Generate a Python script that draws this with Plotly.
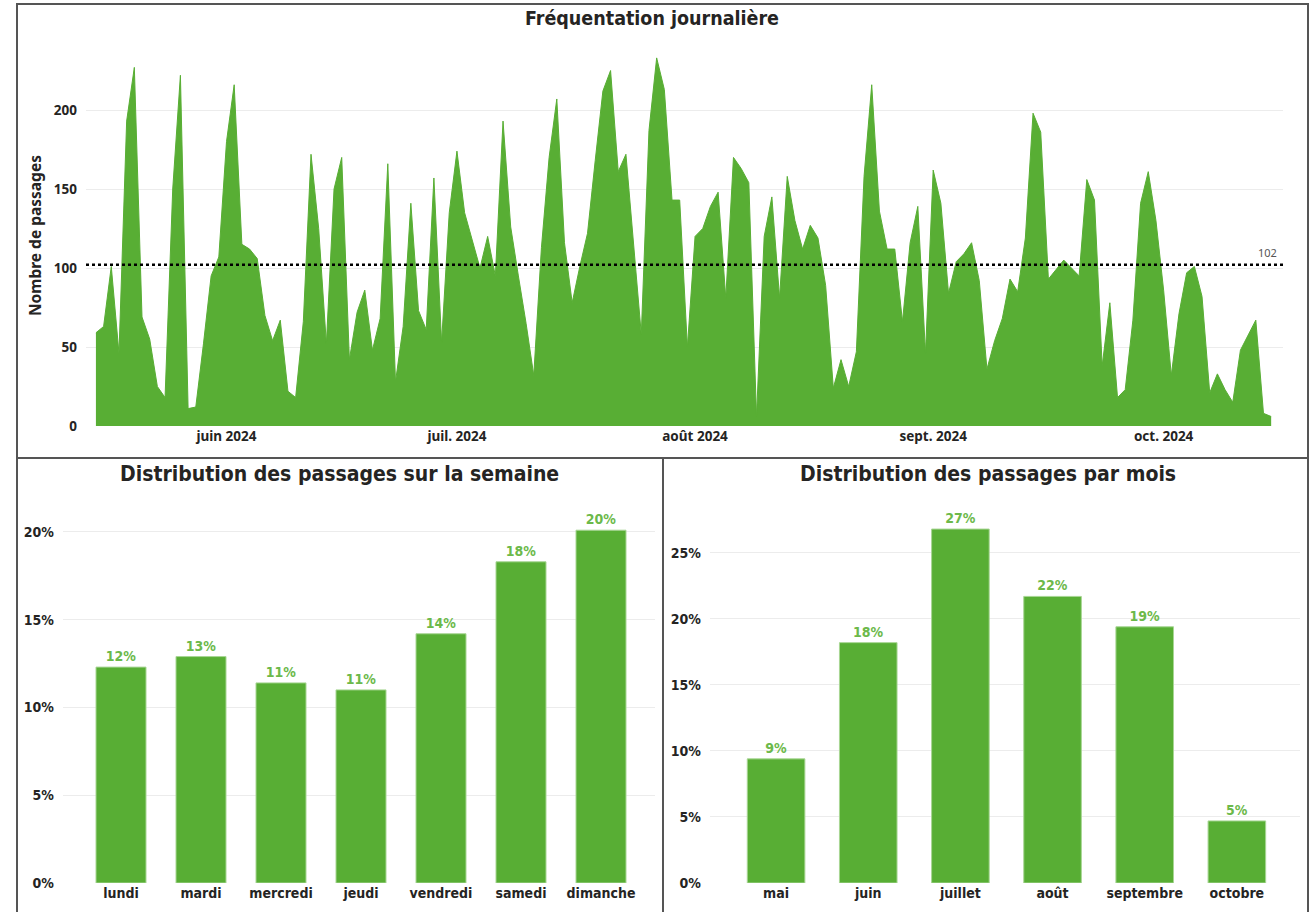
import pandas as pd
import plotly.graph_objects as go

# ---------------- data ----------------
start_date = "2024-05-15"
daily_passages = [
    59, 63, 101, 46, 193, 227, 69, 55, 25, 18,
    150, 222, 11, 12, 52, 95, 107, 180, 216, 115,
    112, 106, 70, 54, 67, 22, 18, 66, 172, 125,
    52, 150, 170, 42, 72, 86, 48, 68, 166, 28,
    63, 141, 73, 61, 157, 53, 135, 174, 135, 117,
    100, 120, 95, 193, 126, 95, 65, 32, 113, 170,
    207, 116, 78, 101, 122, 168, 212, 225, 161, 172,
    115, 58, 187, 233, 213, 143, 143, 50, 120, 125,
    139, 148, 81, 170, 163, 154, 6, 120, 145, 81,
    158, 130, 112, 127, 119, 89, 24, 42, 25, 47,
    158, 216, 136, 112, 112, 66, 116, 139, 46, 162,
    141, 84, 104, 109, 116, 92, 36, 54, 68, 93,
    85, 119, 198, 186, 93, 99, 105, 100, 95, 156,
    143, 38, 78, 18, 23, 67, 141, 161, 130, 86,
    32, 71, 97, 101, 82, 21, 33, 23, 15, 48,
    57, 67, 8, 6,
]
mean_passages = 102

month_ticks = ["2024-06-01", "2024-07-01", "2024-08-01", "2024-09-01", "2024-10-01"]
month_tick_labels = ["juin 2024", "juil. 2024", "août 2024", "sept. 2024", "oct. 2024"]
y_ticks_top = [0, 50, 100, 150, 200]

weekdays = ["lundi", "mardi", "mercredi", "jeudi", "vendredi", "samedi", "dimanche"]
weekday_pct = [12.3, 12.9, 11.4, 11.0, 14.2, 18.3, 20.1]
weekday_ticks = [0, 5, 10, 15, 20]

months = ["mai", "juin", "juillet", "août", "septembre", "octobre"]
month_pct = [9.4, 18.2, 26.8, 21.7, 19.4, 4.7]
month_ticks_pct = [0, 5, 10, 15, 20, 25]

# ---------------- layout helpers ----------------
# positions below are given in the 1309x912 frame of the target picture
REF_W, REF_H = 1309, 912
FIG_W, FIG_H = 1309, 921   # the photographed area is slightly taller than the window
def px(x):
    return x / REF_W
def py(y):
    return 1 - y / REF_H

GREEN = "#58ae34"
LABEL_GREEN = "#6cb94a"
DARK = "#252423"
GRID = "#ececec"
NARROW = "Liberation Sans Narrow, DejaVu Sans Condensed, Roboto Condensed, Roboto, sans-serif"
SANS = "Noto Sans, Open Sans, sans-serif"

dates = pd.date_range(start_date, periods=len(daily_passages), freq="D")

fig = go.Figure()

fig.add_trace(go.Scatter(
    x=dates, y=daily_passages, mode="lines", fill="tozeroy",
    line=dict(color=GREEN, width=1), fillcolor=GREEN,
    xaxis="x", yaxis="y", hoverinfo="x+y", showlegend=False,
))

fig.add_trace(go.Bar(
    x=weekdays, y=weekday_pct, marker=dict(color=GREEN, line=dict(color="#a8d694", width=1)),
    text=weekday_pct, texttemplate="%{y:.0f}%", textposition="outside",
    textfont=dict(family=NARROW, size=14, color=LABEL_GREEN, weight="bold"),
    cliponaxis=False, xaxis="x2", yaxis="y2", showlegend=False,
))

fig.add_trace(go.Bar(
    x=months, y=month_pct, marker=dict(color=GREEN, line=dict(color="#a8d694", width=1)),
    text=month_pct, texttemplate="%{y:.0f}%", textposition="outside",
    textfont=dict(family=NARROW, size=14, color=LABEL_GREEN, weight="bold"),
    cliponaxis=False, xaxis="x3", yaxis="y3", showlegend=False,
))

x_lo = dates[0] - pd.Timedelta(hours=31)
x_hi = dates[-1] + pd.Timedelta(hours=37)

tick_font_top = dict(family=SANS, size=13.5, color=DARK, weight="bold")
tick_font_bot = dict(family=NARROW, size=14, color=DARK, weight="bold")

fig.update_layout(
    width=FIG_W, height=FIG_H, autosize=False,
    margin=dict(l=0, r=0, t=0, b=0, pad=0),
    paper_bgcolor="white", plot_bgcolor="white",
    bargap=0.375,
    xaxis=dict(
        domain=[px(86), px(1283)], range=[x_lo, x_hi], type="date",
        tickvals=month_ticks, ticktext=month_tick_labels,
        showgrid=False, zeroline=False, showline=False, ticks="",
        tickfont=tick_font_top, anchor="y",
    ),
    yaxis=dict(
        domain=[py(426), py(50)], range=[0, 238],
        tickvals=y_ticks_top, showgrid=True, gridcolor=GRID, gridwidth=1,
        zeroline=False, showline=False, ticks="", ticklabelstandoff=8,
        tickfont=tick_font_top, anchor="x",
    ),
    xaxis2=dict(
        domain=[px(63), px(655)], range=[-0.725, 6.675],
        showgrid=False, zeroline=False, showline=False, ticks="",
        tickfont=tick_font_bot, anchor="y2",
    ),
    yaxis2=dict(
        domain=[py(883), py(500)], range=[0, 21.82],
        tickvals=weekday_ticks, ticktext=[f"{v}%" for v in weekday_ticks],
        showgrid=True, gridcolor=GRID, zeroline=False, showline=False, ticks="",
        ticklabelstandoff=8, tickfont=tick_font_bot, anchor="x2",
    ),
    xaxis3=dict(
        domain=[px(710), px(1300)], range=[-0.717, 5.685],
        showgrid=False, zeroline=False, showline=False, ticks="",
        tickfont=tick_font_bot, anchor="y3",
    ),
    yaxis3=dict(
        domain=[py(883), py(500)], range=[0, 29.0],
        tickvals=month_ticks_pct, ticktext=[f"{v}%" for v in month_ticks_pct],
        showgrid=True, gridcolor=GRID, zeroline=False, showline=False, ticks="",
        ticklabelstandoff=8, tickfont=tick_font_bot, anchor="x3",
    ),
)

# mean line
fig.add_shape(type="line", xref="x domain", yref="y", x0=0, x1=1,
              y0=mean_passages, y1=mean_passages,
              line=dict(color="black", width=2.5, dash="dot"))

annotations = [
    dict(text=str(mean_passages), xref="paper", yref="paper", x=px(1279), y=py(252),
         xanchor="right", yanchor="middle", showarrow=False,
         font=dict(family=SANS, size=11, color="#555")),
    dict(text="Fréquentation journalière", xref="paper", yref="paper", x=px(652), y=py(18),
         xanchor="center", yanchor="middle", showarrow=False,
         font=dict(family=NARROW, size=19.5, color=DARK, weight="bold")),
    dict(text="Nombre de passages", xref="paper", yref="paper", x=px(35), y=py(236),
         xanchor="center", yanchor="middle", showarrow=False, textangle=-90,
         font=dict(family=SANS, size=15.5, color=DARK, weight="bold")),
    dict(text="Distribution des passages sur la semaine", xref="paper", yref="paper",
         x=px(340), y=py(474), xanchor="center", yanchor="middle", showarrow=False,
         font=dict(family=NARROW, size=21, color=DARK, weight="bold")),
    dict(text="Distribution des passages par mois", xref="paper", yref="paper",
         x=px(988), y=py(474), xanchor="center", yanchor="middle", showarrow=False,
         font=dict(family=NARROW, size=21, color=DARK, weight="bold")),
]
fig.update_layout(annotations=annotations)

# panel borders
border = dict(color="#555555", width=2)
for (x0, y0, x1, y1) in [(17, 4, 1308, 458), (17, 458, 663, 914), (663, 458, 1308, 914)]:
    fig.add_shape(type="rect", xref="paper", yref="paper",
                  x0=px(x0), x1=px(x1), y0=py(y1), y1=py(y0),
                  line=border, fillcolor="rgba(0,0,0,0)", layer="above")

page_js = (
    "var de=document.documentElement, b=document.body;"
    "[de,b].forEach(function(e){e.style.margin='0';e.style.padding='0';"
    "e.style.overflow='hidden';});"
)

fig.write_html(
    "out.html",
    config={"displayModeBar": False, "responsive": False},
    post_script=page_js,
)
